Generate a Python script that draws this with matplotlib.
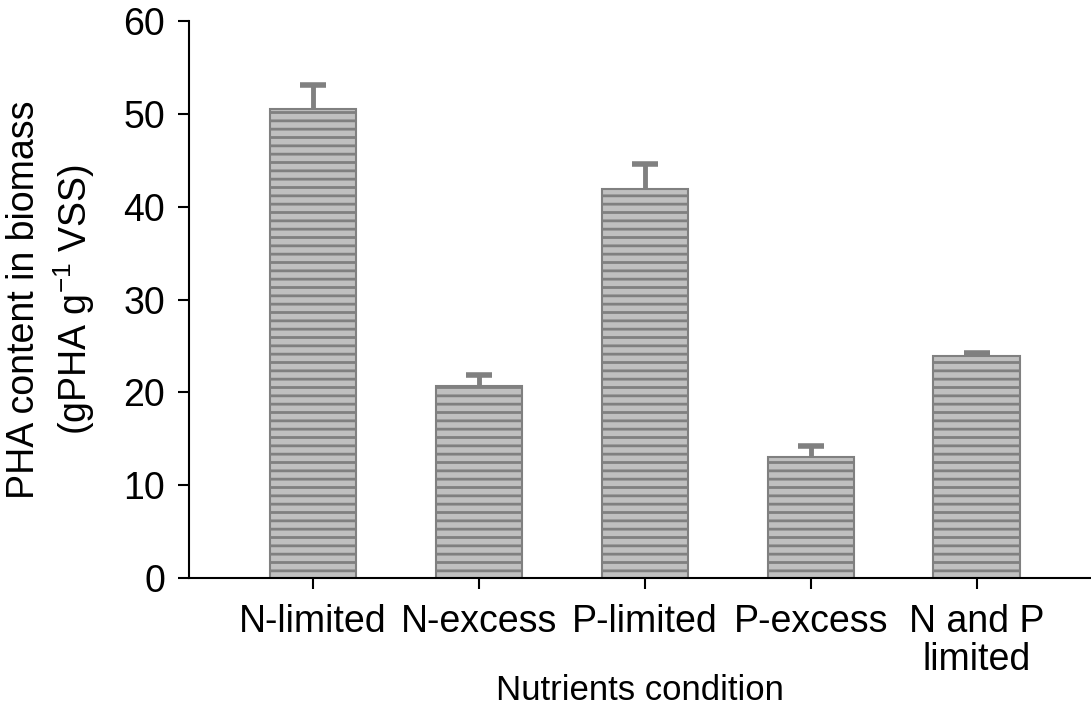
import matplotlib.pyplot as plt

# PHA accumulation under different nutrient regimes
conditions = ["N-limited", "N-excess", "P-limited", "P-excess", "N and P\nlimited"]
pha_content = [50.6, 20.7, 41.9, 13.0, 23.9]
pha_sd = [2.5, 1.2, 2.7, 1.2, 0.4]

plt.rcParams['font.family'] = ['Liberation Sans', 'DejaVu Sans']
plt.rcParams['mathtext.default'] = 'regular'
plt.rcParams['hatch.linewidth'] = 2.0

FS = 27

fig = plt.figure(figsize=(10.91, 7.10), dpi=100)
ax = fig.add_axes([0.173, 0.186, 0.827, 0.784])

x = list(range(len(conditions)))
ax.bar(x, pha_content, width=0.52, color="#c0c0c0", edgecolor="#808080",
       linewidth=1.5, hatch="--", zorder=2)
# upper error bars only: stem plus a cap marker at the top
tops = [v + s for v, s in zip(pha_content, pha_sd)]
ax.vlines(x, pha_content, tops, color="#808080", linewidth=3.5, zorder=3)
ax.plot(x, tops, linestyle="none", marker="_", markersize=19,
        markeredgewidth=4, color="#808080", zorder=3)

ax.set_xlim(-0.75, 4.69)
ax.set_ylim(0, 60)
ax.set_yticks(range(0, 61, 10))
ax.set_xticks(x)
ax.set_xticklabels(conditions, fontsize=FS, linespacing=1.05)
ax.tick_params(axis='y', labelsize=FS, direction='out', length=8, width=1.5, pad=9)
ax.tick_params(axis='x', direction='out', length=8, width=1.5, pad=11)

for side in ['top', 'right']:
    ax.spines[side].set_visible(False)
for side in ['left', 'bottom']:
    ax.spines[side].set_linewidth(1.5)

ax.set_ylabel("PHA content in biomass\n(gPHA g$^{-1}$ VSS)", fontsize=FS, labelpad=19,
              linespacing=1.25)
ax.set_xlabel("Nutrients condition", fontsize=25, labelpad=-3)

fig.savefig("out.png", dpi=100)
